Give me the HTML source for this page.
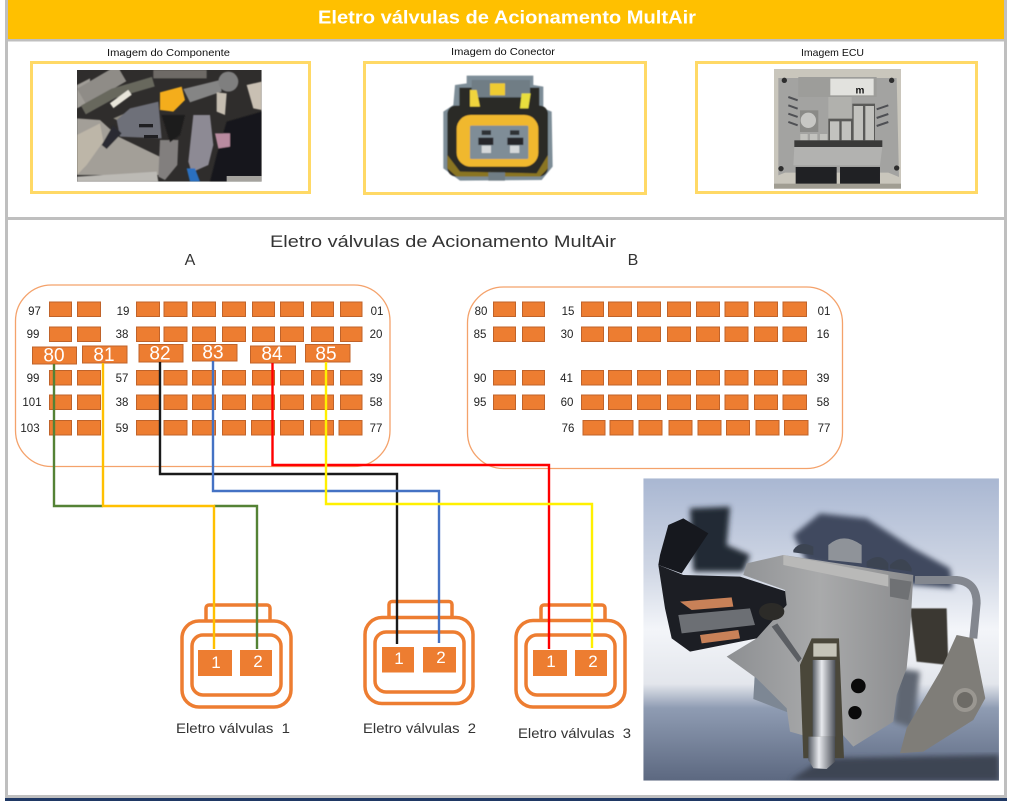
<!DOCTYPE html>
<html lang="pt">
<head>
<meta charset="utf-8">
<title>Eletro válvulas de Acionamento MultAir</title>
<style>
html,body{margin:0;padding:0;background:#fff;width:1013px;height:805px;overflow:hidden}
svg{display:block}
text{font-family:"Liberation Sans",sans-serif}
.p{fill:#ED7D31;stroke:#C0632A;stroke-width:1}
.n{font-size:11.5px;fill:#222;text-anchor:middle}
.w{font-size:19px;fill:#fff;text-anchor:middle}
.h{font-size:17px;fill:#fff;text-anchor:middle}
.c{fill:#fff;stroke:#ED7D31;stroke-width:3.5}
.l{font-size:13.5px;fill:#333}
.t{font-size:10.5px;fill:#111}
.wire{fill:none;stroke-width:2.4}
</style>
</head>
<body>
<svg width="1013" height="805" viewBox="0 0 1013 805" xmlns="http://www.w3.org/2000/svg">
<defs>
<filter id="b1"><feGaussianBlur stdDeviation="1.500"/></filter>
<filter id="b3"><feGaussianBlur stdDeviation="3"/></filter>
<filter id="b8"><feGaussianBlur stdDeviation="8"/></filter>
<linearGradient id="vbg" x1="0" y1="0" x2="0" y2="1">
<stop offset="0" stop-color="#a9b7d2"/><stop offset=".3" stop-color="#cfd6e4"/><stop offset=".5" stop-color="#f3f5f9"/><stop offset=".68" stop-color="#e3e6ec"/><stop offset=".76" stop-color="#8f9cb3"/><stop offset="1" stop-color="#5c6880"/>
</linearGradient>
<linearGradient id="vbody" x1="0" y1="0" x2="1" y2="0">
<stop offset="0" stop-color="#8d8f92"/><stop offset=".5" stop-color="#a9aaab"/><stop offset="1" stop-color="#8b8c8e"/>
</linearGradient>
<linearGradient id="stem" x1="0" y1="0" x2="1" y2="0">
<stop offset="0" stop-color="#555a62"/><stop offset=".4" stop-color="#e8eaee"/><stop offset="1" stop-color="#4c5058"/>
</linearGradient>
<clipPath id="vclip"><rect x="10" y="10" width="1067" height="907"/></clipPath>
<clipPath id="cclip"><rect x="21" y="15" width="554" height="335"/></clipPath>
<g id="ra">
<rect class="p" x="49.500" y="0" width="22" height="14.500"/><rect class="p" x="77.500" y="0" width="23" height="14.500"/>
<rect class="p" x="136.500" y="0" width="23" height="14.500"/><rect class="p" x="164" y="0" width="23" height="14.500"/><rect class="p" x="192.500" y="0" width="23" height="14.500"/><rect class="p" x="222.500" y="0" width="23" height="14.500"/><rect class="p" x="252.500" y="0" width="22" height="14.500"/><rect class="p" x="280.500" y="0" width="23" height="14.500"/><rect class="p" x="311.500" y="0" width="22" height="14.500"/><rect class="p" x="340.500" y="0" width="21.500" height="14.500"/>
</g>
<g id="rbl">
<rect class="p" x="493.500" y="0" width="22" height="14.500"/><rect class="p" x="522.500" y="0" width="22" height="14.500"/>
</g>
<g id="rbr">
<rect class="p" x="581.500" y="0" width="22" height="14.500"/><rect class="p" x="608.500" y="0" width="23" height="14.500"/><rect class="p" x="637.500" y="0" width="23" height="14.500"/><rect class="p" x="667.500" y="0" width="23" height="14.500"/><rect class="p" x="696.500" y="0" width="23" height="14.500"/><rect class="p" x="725" y="0" width="23" height="14.500"/><rect class="p" x="754.500" y="0" width="23" height="14.500"/><rect class="p" x="783" y="0" width="23.500" height="14.500"/>
</g>
</defs>

<!-- frame -->
<rect x="0" y="0" width="1013" height="805" fill="#fff"/>
<rect x="5" y="0" width="3" height="798" fill="#BFBFBF"/>
<rect x="1004" y="0" width="3" height="798" fill="#BFBFBF"/>
<rect x="8" y="0" width="996" height="39" fill="#FFC000"/>
<rect x="8" y="39" width="996" height="2.500" fill="#BFBFBF"/>
<rect x="8" y="217" width="996" height="3" fill="#BFBFBF"/>
<rect x="5" y="795" width="1002" height="3" fill="#BFBFBF"/>
<rect x="5" y="798" width="1002" height="3" fill="#1F3864"/>
<text x="318" y="23.500" font-size="18" font-weight="bold" fill="#fff" textLength="378" lengthAdjust="spacingAndGlyphs">Eletro válvulas de Acionamento MultAir</text>

<!-- top captions and boxes -->
<text class="t" x="107" y="56" textLength="123" lengthAdjust="spacingAndGlyphs">Imagem do Componente</text>
<text class="t" x="451" y="55" textLength="104" lengthAdjust="spacingAndGlyphs">Imagem do Conector</text>
<text class="t" x="801" y="56" textLength="63" lengthAdjust="spacingAndGlyphs">Imagem ECU</text>
<g fill="none" stroke="#FFD966" stroke-width="3">
<rect x="31.500" y="62.500" width="278" height="130"/>
<rect x="364.500" y="62.500" width="281" height="131"/>
<rect x="696.500" y="62.500" width="280" height="130"/>
</g>

<!-- component photo -->
<g transform="translate(70,65) scale(.3333)">
<g clip-path="url(#cclip)">
<rect x="21" y="15" width="554" height="335" fill="#2f2d2c"/>
<g filter="url(#b1)">
<polygon points="250,15 410,15 410,40 250,40" fill="#6e6b66"/>
<polygon points="21,60 60,40 60,110 21,130" fill="#a09d97"/>
<path d="M35 95L155 25" stroke="#8f8c87" stroke-width="55" fill="none"/>
<path d="M40 135L130 85L250 50" stroke="#67675d" stroke-width="30" fill="none"/>
<polygon points="21,160 90,165 145,215 300,290 285,330 21,330" fill="#a39f98"/>
<polygon points="21,210 90,175 100,230 50,300 21,330" fill="#bdb6a8"/>
<polygon points="21,335 260,320 265,350 21,350" fill="#bcbab5"/>
<polygon points="130,160 200,130 260,120 150,170" fill="#8e8a80"/>
<path d="M125 122L180 82" stroke="#e8e5da" stroke-width="18" fill="none"/>
<polygon points="140,165 180,130 265,110 275,220 150,215" fill="#6e7079"/>
<polygon points="270,225 325,225 322,300 285,345 265,335" fill="#827f7e"/>
<polygon points="95,240 130,180 155,205 110,252" fill="#2a2b30"/>
<polygon points="275,150 345,150 330,210 300,232" fill="#1d1a1a"/>
<polygon points="340,72 450,45 455,80 360,112" fill="#858585"/>
<circle cx="475" cy="50" r="30" fill="#7f7f7f"/>
<polygon points="440,82 470,85 465,150 440,140" fill="#c5bdb0"/>
<polygon points="530,60 575,50 575,135 550,130" fill="#c9c0b3"/>
<polygon points="470,170 575,140 575,350 420,350 440,270" fill="#19191b"/>
<polygon points="370,150 420,150 430,240 415,300 365,322 355,290" fill="#8d8a94"/>
<polygon points="435,205 480,205 480,245 445,250" fill="#b98ba0"/>
<polygon points="350,310 375,310 390,350 360,350" fill="#2a70c0"/>
<polygon points="270,82 335,65 345,105 310,140 270,135" fill="#f4ad1a"/>
</g>
<rect x="207" y="177" width="42" height="10" fill="#1f1f22"/>
<rect x="222" y="210" width="42" height="10" fill="#1f1f22"/>
<rect x="470" y="333" width="105" height="17" fill="#a5a39e"/>
</g>
</g>

<!-- connector photo -->
<g transform="translate(430,65) scale(.3333)">
<g filter="url(#b1)">
<polygon points="110,32 310,32 310,60 340,65 340,130 365,140 368,305 335,345 90,347 40,310 40,140 70,120 75,60 110,55" fill="#7d8d97"/>
<rect x="52" y="122" width="302" height="212" rx="25" fill="#2b2a26"/>
<polygon points="52,270 90,320 320,325 354,270 354,310 330,335 80,335 52,310" fill="#8a7420"/>
<rect x="88" y="68" width="240" height="55" fill="#292927"/>
<rect x="125" y="45" width="175" height="52" fill="#6f7d85"/>
<rect x="180" y="55" width="45" height="36" fill="#eecb30"/>
<polygon points="120,75 140,75 150,125 120,125" fill="#f0d43c"/>
<polygon points="275,85 302,85 295,130 270,130" fill="#e8de3e"/>
<rect x="80" y="150" width="245" height="155" rx="42" fill="#f0b82d"/>
<rect x="120" y="182" width="175" height="100" rx="4" fill="#7f8d97"/>
<rect x="145" y="218" width="45" height="22" fill="#26262a"/>
<rect x="232" y="218" width="48" height="22" fill="#26262a"/>
<rect x="155" y="196" width="28" height="14" fill="#2f3034"/>
<rect x="240" y="196" width="28" height="14" fill="#2f3034"/>
<rect x="155" y="242" width="28" height="22" fill="#d5d8da"/>
<rect x="240" y="242" width="28" height="22" fill="#d5d8da"/>
<rect x="175" y="322" width="50" height="25" fill="#6f7d85"/>
</g>
</g>

<!-- ECU photo -->
<g transform="translate(765,62) scale(.3333)">
<rect x="27" y="21" width="381" height="359" fill="#c9c6bc"/>
<rect x="27" y="365" width="381" height="15" fill="#a09d92"/>
<polygon points="40,48 395,48 402,345 370,332 60,332 40,340" fill="#a3a3a1"/>
<rect x="100" y="45" width="235" height="60" fill="#9d9d9a"/>
<rect x="196" y="50" width="130" height="50" fill="#e2e2de"/>
<text x="285" y="94" font-size="30" font-weight="bold" fill="#111" text-anchor="middle">m</text>
<rect x="190" y="105" width="70" height="65" fill="#b1b1ad"/>
<rect x="105" y="145" width="55" height="65" fill="#8a8a87"/>
<circle cx="130" cy="175" r="23" fill="#c7c7c4"/>
<g fill="#5a5a58"><rect x="190" y="170" width="140" height="65"/><rect x="262" y="125" width="68" height="50"/></g>
<g fill="#c2c2be"><rect x="195" y="178" width="28" height="57"/><rect x="230" y="178" width="28" height="57"/><rect x="266" y="132" width="28" height="103"/><rect x="301" y="132" width="26" height="103"/><rect x="106" y="216" width="22" height="19"/><rect x="135" y="216" width="22" height="19"/><rect x="165" y="216" width="22" height="19"/></g>
<g stroke="#4f5054" stroke-width="6"><path d="M70 105l28 10M70 130l28 10M70 155l28 10M70 180l28 10M335 142l35-12M335 168l35-12M335 192l35-12"/></g>
<rect x="88" y="235" width="264" height="20" fill="#3a3a39"/>
<polygon points="88,255 352,255 345,310 85,310" fill="#b2b2b0"/>
<rect x="92" y="315" width="123" height="50" fill="#202124"/>
<rect x="225" y="315" width="120" height="50" fill="#202124"/>
<g fill="#2e2e2e"><circle cx="58" cy="55" r="8"/><circle cx="380" cy="55" r="8"/><circle cx="48" cy="320" r="8"/><circle cx="395" cy="318" r="8"/></g>
</g>

<!-- section titles -->
<text x="270" y="247" font-size="17" fill="#333" textLength="346" lengthAdjust="spacingAndGlyphs">Eletro válvulas de Acionamento MultAir</text>
<text x="190" y="265" font-size="16" fill="#333" text-anchor="middle">A</text>
<text x="633" y="265" font-size="16" fill="#333" text-anchor="middle">B</text>

<!-- connector outlines -->
<rect x="15.500" y="285" width="374.500" height="181.500" rx="36" fill="#fff" stroke="#F4A26B" stroke-width="1.300"/>
<rect x="467.500" y="287" width="375" height="181.500" rx="36" fill="#fff" stroke="#F4A26B" stroke-width="1.300"/>

<!-- A pins -->
<use href="#ra" y="302"/><use href="#ra" y="327"/><use href="#ra" y="370.500"/><use href="#ra" y="395"/>
<g transform="translate(0,420.500)">
<rect class="p" x="49.500" y="0" width="22" height="14.500"/><rect class="p" x="77.500" y="0" width="23" height="14.500"/>
<rect class="p" x="136.500" y="0" width="23" height="14.500"/><rect class="p" x="164" y="0" width="23" height="14.500"/><rect class="p" x="192.500" y="0" width="23" height="14.500"/><rect class="p" x="222.500" y="0" width="23" height="14.500"/><rect class="p" x="251.500" y="0" width="23" height="14.500"/><rect class="p" x="280.500" y="0" width="23" height="14.500"/><rect class="p" x="310.500" y="0" width="23" height="14.500"/><rect class="p" x="339" y="0" width="23" height="14.500"/>
</g>
<rect class="p" x="32.500" y="347" width="44" height="17"/>
<rect class="p" x="82.500" y="346" width="44.500" height="17"/>
<rect class="p" x="139" y="344.500" width="44" height="17.500"/>
<rect class="p" x="192.500" y="344.500" width="44.500" height="16.500"/>
<rect class="p" x="250.500" y="346" width="45" height="17"/>
<rect class="p" x="305.500" y="344.500" width="44.500" height="17.500"/>
<text class="w" x="54" y="361.500">80</text>
<text class="w" x="104" y="361">81</text>
<text class="w" x="160" y="359.500">82</text>
<text class="w" x="213" y="358.500">83</text>
<text class="w" x="272" y="360">84</text>
<text class="w" x="326" y="360">85</text>

<!-- A labels -->
<text class="n" x="34.500" y="315">97</text><text class="n" x="123" y="315">19</text><text class="n" x="377" y="315">01</text>
<text class="n" x="33" y="338">99</text><text class="n" x="122" y="338">38</text><text class="n" x="376" y="338">20</text>
<text class="n" x="33" y="382">99</text><text class="n" x="122" y="382">57</text><text class="n" x="376" y="382">39</text>
<text class="n" x="32" y="406">101</text><text class="n" x="122" y="406">38</text><text class="n" x="376" y="406">58</text>
<text class="n" x="30" y="432">103</text><text class="n" x="122" y="432">59</text><text class="n" x="376" y="432">77</text>

<!-- B pins -->
<use href="#rbl" y="302"/><use href="#rbl" y="327"/><use href="#rbl" y="370.500"/><use href="#rbl" y="395"/>
<use href="#rbr" y="302"/><use href="#rbr" y="327"/><use href="#rbr" y="370.500"/><use href="#rbr" y="395"/>
<use href="#rbr" x="1.500" y="420.500"/>
<text class="n" x="481" y="315">80</text><text class="n" x="568" y="315">15</text><text class="n" x="824" y="315">01</text>
<text class="n" x="480" y="338">85</text><text class="n" x="567" y="338">30</text><text class="n" x="823" y="338">16</text>
<text class="n" x="480" y="382">90</text><text class="n" x="566.500" y="382">41</text><text class="n" x="823" y="382">39</text>
<text class="n" x="480" y="406">95</text><text class="n" x="567" y="406">60</text><text class="n" x="823" y="406">58</text>
<text class="n" x="568" y="432">76</text><text class="n" x="824" y="432">77</text>

<!-- harness connectors -->
<rect class="c" x="206" y="605" width="64" height="22" rx="3"/>
<rect class="c" x="182" y="621" width="109" height="86" rx="17"/>
<rect class="c" x="192" y="635" width="89" height="60" rx="11"/>
<rect x="198" y="650" width="34" height="26" fill="#ED7D31"/><rect x="240" y="650" width="32" height="26" fill="#ED7D31"/>

<rect class="c" x="389" y="601.500" width="63" height="22" rx="3"/>
<rect class="c" x="365" y="617.500" width="108" height="86" rx="17"/>
<rect class="c" x="375" y="632" width="89" height="60" rx="11"/>
<rect x="382" y="647" width="32" height="25.500" fill="#ED7D31"/><rect x="423" y="647" width="33" height="25.500" fill="#ED7D31"/>

<rect class="c" x="541" y="605" width="64" height="22" rx="3"/>
<rect class="c" x="516" y="620.500" width="109" height="86.500" rx="17"/>
<rect class="c" x="526" y="635" width="89" height="60" rx="11"/>
<rect x="533" y="650" width="34" height="26" fill="#ED7D31"/><rect x="575" y="650" width="32" height="26" fill="#ED7D31"/>

<text class="h" x="216" y="668">1</text><text class="h" x="258" y="667">2</text>
<text class="h" x="399" y="664">1</text><text class="h" x="441" y="663">2</text>
<text class="h" x="551" y="667">1</text><text class="h" x="593" y="667">2</text>

<!-- wires -->
<path class="wire" stroke="#548235" d="M54 364V506H103M214 506H257V649"/>
<path class="wire" stroke="#FFC000" d="M103 363V506H214V649"/>
<path class="wire" stroke="#1a1a1a" d="M160 362V474H397V644"/>
<path class="wire" stroke="#4472C4" d="M213 361V491H439V643"/>
<path class="wire" stroke="#FF0000" d="M272.500 363V465H549V649"/>
<path class="wire" stroke="#FFF000" d="M326 362V504H592V648"/>

<!-- wire captions -->
<text class="l" x="176" y="733" textLength="114" lengthAdjust="spacingAndGlyphs" xml:space="preserve">Eletro válvulas  1</text>
<text class="l" x="363" y="733" textLength="113" lengthAdjust="spacingAndGlyphs" xml:space="preserve">Eletro válvulas  2</text>
<text class="l" x="518" y="738" textLength="113" lengthAdjust="spacingAndGlyphs" xml:space="preserve">Eletro válvulas  3</text>

<!-- valve photo -->
<g transform="translate(640,475) scale(.3333)">
<g clip-path="url(#vclip)">
<rect x="10" y="10" width="1067" height="907" fill="url(#vbg)"/>
<polygon points="550,850 1077,840 1077,917 450,917" fill="#3d4452" filter="url(#b8)"/>
<g filter="url(#b8)">
<polygon points="460,180 540,115 680,130 820,220 930,280 940,340 820,330 500,260" fill="#3f4a5f"/>
<polygon points="150,100 270,95 260,210 330,240 310,290 160,290" fill="#222936"/>
<polygon points="770,580 840,590 820,760 760,740" fill="#5f6672"/>
</g>
<polygon points="345,585 450,620 450,715 340,672" fill="#7d8794"/>
<polygon points="85,150 130,130 205,175 125,295 55,270 60,240" fill="#16181e"/>
<polygon points="55,270 130,300 300,305 440,350 445,420 350,490 150,530 95,490 75,400" fill="#1c1e24"/>
<path d="M825 315H950Q1010 320 1010 385L1000 490" fill="none" stroke="#83878f" stroke-width="24"/>
<polygon points="810,400 920,400 925,570 830,560" fill="#3a3833" filter="url(#b1)"/>
<polygon points="430,240 820,300 810,480 800,580 770,660 760,740 640,815 600,770 520,790 450,770 440,700 350,610 260,545 350,490 440,390 435,345 310,300 320,265" fill="url(#vbody)"/>
<polygon points="430,240 745,300 745,335 430,270" fill="#b9b9b8"/>
<polygon points="750,310 815,320 805,375 750,365" fill="#6f7174"/>
<path d="M460 225Q480 195 520 215L520 240 460 232ZM680 260Q720 230 745 265L745 285 680 275ZM750 270Q790 230 815 280L815 290 750 280Z" fill="#3c4452"/>
<path d="M565 255V210Q610 170 665 210V265Z" fill="#8f9399"/>
<polygon points="515,490 597,490 612,850 490,850 480,570" fill="#4a473a"/>
<polygon points="520,505 590,505 590,545 520,545" fill="#c5c4b8"/>
<rect x="518" y="555" width="68" height="230" fill="url(#stem)"/>
<polygon points="505,785 585,785 585,860 560,882 520,880 505,855" fill="url(#stem)"/>
<circle cx="655" cy="633" r="22" fill="#0a0a0a"/>
<circle cx="645" cy="713" r="20" fill="#0a0a0a"/>
<polygon points="395,455 412,445 485,550 475,562" fill="#5b5e63"/>
<polygon points="120,380 275,367 280,395 155,405" fill="#c88158"/>
<polygon points="180,480 295,465 300,490 185,505" fill="#c88158"/>
<polygon points="115,420 330,400 345,450 125,475" fill="#6c6f74"/>
<ellipse cx="395" cy="410" rx="38" ry="26" fill="#2c2b28"/>
<polygon points="950,480 1000,490 1036,670 1000,735 850,830 780,835 800,760 900,590" fill="#7f7d78"/>
<circle cx="975" cy="675" r="36" fill="#9a9791"/>
<circle cx="975" cy="675" r="24" fill="#6d6b66"/>
</g>
</g>
</svg>
</body>
</html>
